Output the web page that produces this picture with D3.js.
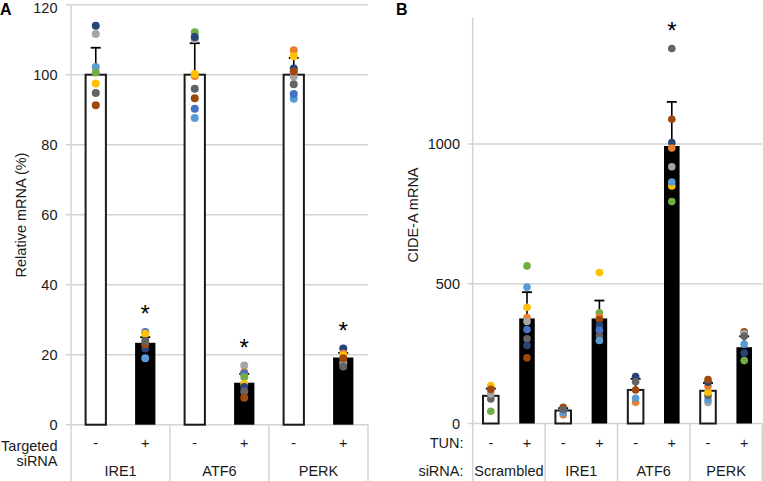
<!DOCTYPE html>
<html>
<head>
<meta charset="utf-8">
<script src="https://cdn.jsdelivr.net/npm/d3@7"></script>
<style>
  html, body { margin: 0; padding: 0; background: #fff; }
  svg { display: block; font-family: "Liberation Sans", Arial, sans-serif; }
</style>
</head>
<body>
<svg id="chart" width="763" height="481"></svg>
<script>
// ---------------- DATA ----------------
// Replicate palette (Excel Office theme colours), one per replicate
const replicateColors = ["#5B9BD5", "#ED7D31", "#A5A5A5", "#FFC000", "#4472C4", "#70AD47", "#264478", "#9E480E", "#636363"];

// Panel A
const genesA = ["IRE1", "ATF6", "PERK"];
const signsA = ["-", "+", "-", "+", "-", "+"];
const meansA = [100, 23.4, 100, 12, 100, 19.2];
const errTopA = [107.7, 25, 109, 14.5, 104.8, 20.5];
const sigA = [false, true, false, true, false, true];
const pointsA = [
  [[6,114.0],[2,111.6],[0,102.2],[5,100.6],[3,97.5],[8,94.8],[7,91.3]],
  [[0,19.0],[6,21.8],[4,26.5],[3,26.0],[7,23.0],[8,23.9]],
  [[2,110.2],[5,112.1],[6,110.8],[1,99.6],[3,100.2],[8,96.0],[7,93.3],[4,90.3],[0,87.6]],
  [[2,16.9],[1,15.0],[4,14.6],[5,13.6],[3,11.6],[6,10.8],[8,9.5],[7,7.7]],
  [[1,107.0],[3,105.3],[0,93.1],[4,94.5],[2,99.5],[8,97.3],[6,101.8],[7,100.9]],
  [[2,17.6],[8,16.6],[6,21.8],[1,20.3],[3,19.8],[7,19.0]]
];
const ticksA = [0, 20, 40, 60, 80, 100, 120];

// Panel B
const groupsB = ["Scrambled", "IRE1", "ATF6", "PERK"];
const signsB = ["-", "+", "-", "+", "-", "+", "-", "+"];
const meansB = [99, 376, 46.5, 376, 120, 993, 117, 273];
const errTopB = [125, 470, 55, 440, 160, 1151, 145, 312];
const sigB = [false, false, false, false, false, true, false, false];
const pointsB = [
  [[5,44],[8,88],[2,106],[1,128],[3,136],[7,122]],
  [[5,564],[0,488],[3,416],[1,379],[2,365],[4,336],[8,303],[6,279],[7,235]],
  [[1,31],[0,38],[7,58],[8,50]],
  [[3,540],[5,396],[1,381],[7,372],[6,351],[4,334],[8,314],[0,297]],
  [[1,76],[0,90],[7,120],[6,168],[8,149]],
  [[8,1342],[7,1089],[6,1005],[1,986],[2,919],[3,850],[0,864],[5,794]],
  [[2,75],[0,85],[8,100],[3,112],[1,133],[6,148],[7,157]],
  [[5,225],[6,252],[0,284],[7,328],[2,322],[8,312]]
];
const ticksB = [0, 500, 1000];

// ---------------- DRAWING ----------------
const svg = d3.select("#chart");
const gridColor = "#d3d3d3";
const textColor = "#1a1a1a";
const color = d3.scaleOrdinal().domain(d3.range(replicateColors.length)).range(replicateColors);

function panel(opts) {
  const g = svg.append("g");
  const { x0, x1, yScale, ticks, means, errTop, points, sig, signs, groups, barFrac, r, rowLabels, rowLabelX, yLabel, yLabelX, tickLabelX, axisTop } = opts;
  const x = d3.scaleBand().domain(d3.range(means.length)).range([x0, x1]).padding(0);
  const bw = x.bandwidth() * barFrac;
  const y0 = yScale(0);
  const fs = 14.5;

  g.selectAll("line.grid").data(ticks).join("line")
    .attr("x1", x0 - 5).attr("x2", x1)
    .attr("y1", d => yScale(d)).attr("y2", d => yScale(d))
    .attr("stroke", gridColor).attr("stroke-width", 1.5);
  g.selectAll("text.tick").data(ticks).join("text")
    .attr("x", tickLabelX).attr("y", d => Math.max(yScale(d), 8)).attr("dy", "0.36em")
    .attr("text-anchor", "end").attr("font-size", fs).attr("fill", textColor)
    .text(d => d);
  g.append("line").attr("x1", x0).attr("x2", x0).attr("y1", axisTop).attr("y2", 481)
    .attr("stroke", gridColor).attr("stroke-width", 1.5);
  const seps = d3.range(1, groups.length + 1).map(i => x0 + (x1 - x0) * i / groups.length);
  g.selectAll("line.sep").data(seps).join("line")
    .attr("x1", d => d).attr("x2", d => d).attr("y1", y0).attr("y2", 481)
    .attr("stroke", gridColor).attr("stroke-width", 1.5);

  g.selectAll("rect.bar").data(means).join("rect")
    .attr("x", (d, i) => x(i) + (x.bandwidth() - bw) / 2)
    .attr("width", bw)
    .attr("y", d => yScale(d))
    .attr("height", d => y0 - yScale(d))
    .attr("fill", (d, i) => signs[i] === "+" ? "#000" : "#fff")
    .attr("stroke", (d, i) => signs[i] === "+" ? "none" : "#1a1a1a")
    .attr("stroke-width", 2);

  const cx = i => x(i) + x.bandwidth() / 2;
  g.selectAll("line.err").data(errTop).join("line")
    .attr("x1", (d, i) => cx(i)).attr("x2", (d, i) => cx(i))
    .attr("y1", (d, i) => yScale(means[i])).attr("y2", d => yScale(d))
    .attr("stroke", "#000").attr("stroke-width", 1.6);
  g.selectAll("line.cap").data(errTop).join("line")
    .attr("x1", (d, i) => cx(i) - 5).attr("x2", (d, i) => cx(i) + 5)
    .attr("y1", d => yScale(d)).attr("y2", d => yScale(d))
    .attr("stroke", "#000").attr("stroke-width", 1.8);

  points.forEach((arr, i) => {
    g.selectAll(null).data(arr).join("circle")
      .attr("cx", cx(i)).attr("cy", d => yScale(d[1])).attr("r", r)
      .attr("fill", d => color(d[0]));
  });

  sig.forEach((s, i) => {
    if (!s) return;
    const top = d3.max(points[i], d => d[1]);
    g.append("text").attr("x", cx(i)).attr("y", yScale(top) - 23 + 13.5)
      .attr("text-anchor", "middle").attr("font-size", 24).attr("fill", "#000")
      .text("*");
  });

  g.selectAll("text.sign").data(signs).join("text")
    .attr("x", (d, i) => cx(i)).attr("y", 448)
    .attr("text-anchor", "middle").attr("font-size", fs).attr("fill", textColor)
    .text(d => d);
  g.selectAll("text.grp").data(groups).join("text")
    .attr("x", (d, i) => x0 + (x1 - x0) * (i + 0.5) / groups.length).attr("y", 475.5)
    .attr("text-anchor", "middle").attr("font-size", fs).attr("fill", textColor)
    .text(d => d);
  rowLabels.forEach(rl => {
    g.append("text").attr("x", rowLabelX).attr("y", rl.y)
      .attr("text-anchor", "end").attr("font-size", fs).attr("fill", textColor)
      .text(rl.t);
  });
  g.append("text")
    .attr("transform", `translate(${yLabelX},215) rotate(-90)`)
    .attr("dy", "0.36em")
    .attr("text-anchor", "middle").attr("font-size", fs).attr("fill", textColor)
    .text(yLabel);
}

const yA = d3.scaleLinear().domain([0, 120]).range([424.7, 4.7]);
panel({
  x0: 71, x1: 368, yScale: yA, ticks: ticksA, means: meansA, errTop: errTopA,
  points: pointsA, sig: sigA, signs: signsA, groups: genesA, barFrac: 0.41, r: 4,
  rowLabels: [{ t: "Targeted", y: 451 }, { t: "siRNA", y: 466 }], rowLabelX: 57.5,
  yLabel: "Relative mRNA (%)", yLabelX: 21, tickLabelX: 57.5, axisTop: 4.7
});

const yB = d3.scaleLinear().domain([0, 1450]).range([423.5, 18.3]);
panel({
  x0: 472.7, x1: 762.3, yScale: yB, ticks: ticksB, means: meansB, errTop: errTopB,
  points: pointsB, sig: sigB, signs: signsB, groups: groupsB, barFrac: 0.43, r: 3.8,
  rowLabels: [{ t: "TUN:", y: 448 }, { t: "siRNA:", y: 475.5 }], rowLabelX: 463.5,
  yLabel: "CIDE-A mRNA", yLabelX: 413, tickLabelX: 460, axisTop: 17.5
});

svg.append("text").attr("x", 0).attr("y", 15).attr("font-size", 16).attr("font-weight", "bold").attr("fill", "#000").text("A");
svg.append("text").attr("x", 396).attr("y", 15).attr("font-size", 16).attr("font-weight", "bold").attr("fill", "#000").text("B");
</script>
</body>
</html>
